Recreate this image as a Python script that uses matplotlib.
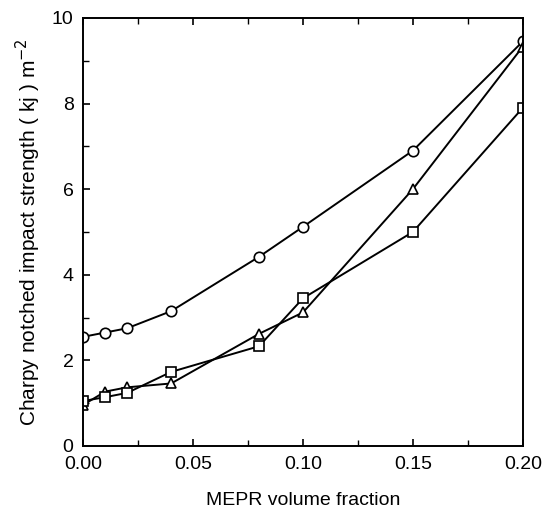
import matplotlib
matplotlib.use('Agg')
import matplotlib.pyplot as plt
from matplotlib.ticker import MultipleLocator

plt.rcParams['font.family'] = ['Liberation Sans', 'DejaVu Sans']

# MEPR volume fraction
x = [0.0, 0.01, 0.02, 0.04, 0.08, 0.10, 0.15, 0.20]

# Charpy notched impact strength
circle = [2.55, 2.65, 2.75, 3.15, 4.42, 5.12, 6.90, 9.45]
square = [1.05, 1.14, 1.24, 1.73, 2.33, 3.45, 5.00, 7.90]
triangle = [0.96, 1.27, 1.37, 1.46, 2.62, 3.12, 6.00, 9.33]

fig = plt.figure(figsize=(5.44, 5.12), dpi=100)
ax = fig.add_axes([0.153, 0.129, 0.808, 0.836])

style = dict(color='black', linewidth=1.4, markersize=7.5,
             markerfacecolor='white', markeredgecolor='black', markeredgewidth=1.2)
ax.plot(x, circle, marker='o', **style)
ax.plot(x, triangle, marker='^', **style)
ax.plot(x, square, marker='s', **style)

ax.set_xlim(0, 0.2)
ax.set_ylim(0, 10)
ax.set_xticks([0, 0.05, 0.10, 0.15, 0.20])
ax.set_xticklabels(['0.00', '0.05', '0.10', '0.15', '0.20'])
ax.xaxis.set_minor_locator(MultipleLocator(0.025))
ax.yaxis.set_major_locator(MultipleLocator(2))
ax.yaxis.set_minor_locator(MultipleLocator(1))

ax.tick_params(which='both', direction='in', top=True, right=False, labelsize=14)
ax.tick_params(which='major', length=5, width=1.2, pad=7)
ax.tick_params(which='minor', length=4, width=1.0)
for s in ax.spines.values():
    s.set_linewidth(1.4)

ax.set_xlabel('MEPR volume fraction', fontsize=14, labelpad=14)
ax.set_ylabel('Charpy notched impact strength ( kj ) m$^{-2}$', fontsize=15, labelpad=6)

fig.savefig('out.png', dpi=100)
